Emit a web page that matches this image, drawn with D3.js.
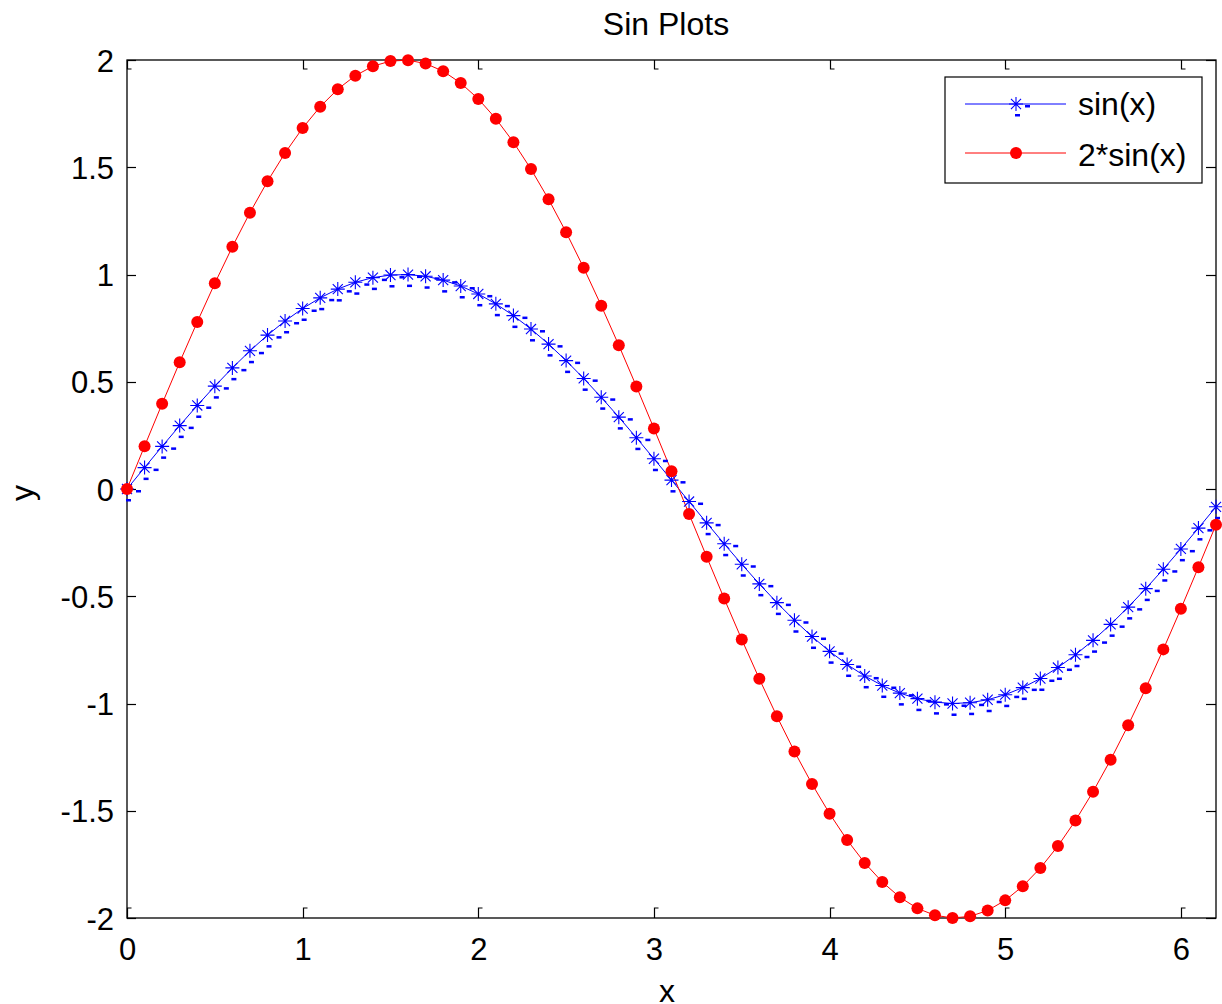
<!DOCTYPE html>
<html><head><meta charset="utf-8">
<script src="https://cdn.jsdelivr.net/npm/d3@7"></script>
<style>body{margin:0;background:#fff}text{font-family:"Liberation Sans",Arial,sans-serif}</style>
</head><body>
<svg id="c" width="1222" height="1004"></svg>
<script>
const xValues = [0,0.1,0.2,0.3,0.4,0.5,0.6,0.7,0.8,0.9,1.0,1.1,1.2,1.3,1.4,1.5,1.6,1.7,1.8,1.9,2.0,2.1,2.2,2.3,2.4,2.5,2.6,2.7,2.8,2.9,3.0,3.1,3.2,3.3,3.4,3.5,3.6,3.7,3.8,3.9,4.0,4.1,4.2,4.3,4.4,4.5,4.6,4.7,4.8,4.9,5.0,5.1,5.2,5.3,5.4,5.5,5.6,5.7,5.8,5.9,6.0,6.1,6.2];
const sinValues = [0,0.0998,0.1987,0.2955,0.3894,0.4794,0.5646,0.6442,0.7174,0.7833,0.8415,0.8912,0.9320,0.9636,0.9854,0.9975,0.9996,0.9917,0.9738,0.9463,0.9093,0.8632,0.8085,0.7457,0.6755,0.5985,0.5155,0.4274,0.3350,0.2392,0.1411,0.0416,-0.0584,-0.1577,-0.2555,-0.3508,-0.4425,-0.5298,-0.6119,-0.6878,-0.7568,-0.8183,-0.8716,-0.9162,-0.9516,-0.9775,-0.9937,-0.9999,-0.9962,-0.9825,-0.9589,-0.9258,-0.8835,-0.8323,-0.7728,-0.7055,-0.6313,-0.5507,-0.4646,-0.3739,-0.2794,-0.1822,-0.0831];
const sin2Values = [0,0.1997,0.3973,0.5910,0.7788,0.9589,1.1293,1.2884,1.4347,1.5667,1.6829,1.7824,1.8641,1.9271,1.9709,1.9950,1.9991,1.9833,1.9477,1.8926,1.8186,1.7264,1.6170,1.4913,1.3509,1.1969,1.0311,0.8547,0.6700,0.4784,0.2822,0.0831,-0.1167,-0.3155,-0.5110,-0.7016,-0.8850,-1.0596,-1.2238,-1.3756,-1.5136,-1.6366,-1.7432,-1.8323,-1.9032,-1.9551,-1.9874,-1.9998,-1.9923,-1.9650,-1.9178,-1.8516,-1.7670,-1.6646,-1.5455,-1.4110,-1.2625,-1.1013,-0.9292,-0.7477,-0.5588,-0.3643,-0.1663];
const xTicks = [0,1,2,3,4,5,6];
const yTicks = [2,1.5,1,0.5,0,-0.5,-1,-1.5,-2];
const yTickLabels = ["2","1.5","1","0.5","0","-0.5","-1","-1.5","-2"];
const seriesNames = ["sin(x)","2*sin(x)"];
const titleText = "Sin Plots", xLabel = "x", yLabel = "y";

const L = 127, R = 1216, T = 60, B = 918;
const svg = d3.select("#c");
const x = d3.scaleLinear().domain([0, 6.2]).range([L, R]);
const y = d3.scaleLinear().domain([-2, 2]).range([B, T]);

// frame
svg.append("rect").attr("x", L).attr("y", T).attr("width", R - L).attr("height", B - T)
  .attr("fill", "none").attr("stroke", "#000").attr("stroke-width", 1.3);

// axes
const fs = 31;
const xb = svg.append("g").attr("transform", `translate(0,${B})`)
  .call(d3.axisBottom(x).tickValues(xTicks).tickSize(0).tickPadding(20).tickFormat(d3.format("d")));
const yl = svg.append("g").attr("transform", `translate(${L},0)`)
  .call(d3.axisLeft(y).tickValues(yTicks).tickSize(0).tickPadding(13).tickFormat((d, i) => yTickLabels[i]));
[xb, yl].forEach(g => { g.select(".domain").remove(); g.selectAll("text").attr("font-size", fs).attr("fill", "#000").attr("font-family", "Liberation Sans, Arial, sans-serif"); });
xb.selectAll("text").attr("dy", "0.71em");
yl.selectAll("text").attr("dy", "0.355em");

// inward ticks with hooks
const tk = svg.append("g").attr("stroke", "#000").attr("stroke-width", 1.2).attr("fill", "none");
xTicks.forEach(v => {
  const px = Math.round(x(v)) + 0.5;
  tk.append("path").attr("d", `M${px},${B}V${B - 10}h4`);
  tk.append("path").attr("d", `M${px},${T}V${T + 9}h4`);
});
yTicks.forEach(v => {
  const py = Math.round(y(v)) + 0.5;
  tk.append("path").attr("d", `M${L},${py}h9`);
  tk.append("path").attr("d", `M${R},${py}h-10`);
});

// lines
const line = d3.line().x((d, i) => x(xValues[i])).y(d => y(d));
svg.append("path").datum(sinValues).attr("d", line).attr("fill", "none").attr("stroke", "#0000ff").attr("stroke-width", 1);
svg.append("path").datum(sin2Values).attr("d", line).attr("fill", "none").attr("stroke", "#ff0000").attr("stroke-width", 1);

// asterisk marker
function star(g, cx, cy) {
  const r = 7, d = r * 0.72;
  g.append("path").attr("d", `M${cx - r},${cy}H${cx + r}M${cx},${cy - r}V${cy + r}M${cx - d},${cy - d}L${cx + d},${cy + d}M${cx - d},${cy + d}L${cx + d},${cy - d}`)
    .attr("stroke", "#0000ff").attr("stroke-width", 1.1).attr("fill", "none");
  g.append("rect").attr("x", cx + 9).attr("y", cy + 1).attr("width", 5).attr("height", 2.5).attr("fill", "#0000ff");
  g.append("rect").attr("x", cx - 1).attr("y", cy + 10).attr("width", 5).attr("height", 2.5).attr("fill", "#0000ff");
}
const gs = svg.append("g");
sinValues.forEach((v, i) => star(gs, x(xValues[i]), y(v)));
svg.append("g").selectAll("circle").data(sin2Values).join("circle")
  .attr("cx", (d, i) => x(xValues[i])).attr("cy", d => y(d)).attr("r", 6).attr("fill", "#ff0000");

// title & labels
svg.append("text").attr("x", 666).attr("y", 35).attr("text-anchor", "middle").attr("font-size", 32).text(titleText);
svg.append("text").attr("x", 667).attr("y", 1002).attr("text-anchor", "middle").attr("font-size", 32).text(xLabel);
svg.append("text").attr("transform", "translate(33,493) rotate(-90)").attr("text-anchor", "middle").attr("font-size", 32).text(yLabel);

// legend
const lg = svg.append("g");
lg.append("rect").attr("x", 945).attr("y", 77).attr("width", 257).attr("height", 106)
  .attr("fill", "#fff").attr("stroke", "#000").attr("stroke-width", 1.2);
const ly = [104, 153];
const lb = [115, 166];
lg.append("line").attr("x1", 965).attr("x2", 1066).attr("y1", ly[0]).attr("y2", ly[0]).attr("stroke", "#0000ff");
star(lg, 1016, ly[0]);
lg.append("line").attr("x1", 965).attr("x2", 1066).attr("y1", ly[1]).attr("y2", ly[1]).attr("stroke", "#ff0000");
lg.append("circle").attr("cx", 1016).attr("cy", ly[1]).attr("r", 6).attr("fill", "#ff0000");
seriesNames.forEach((n, i) => lg.append("text").attr("x", 1078).attr("y", lb[i]).attr("font-size", 32).text(n));
</script>
</body></html>
